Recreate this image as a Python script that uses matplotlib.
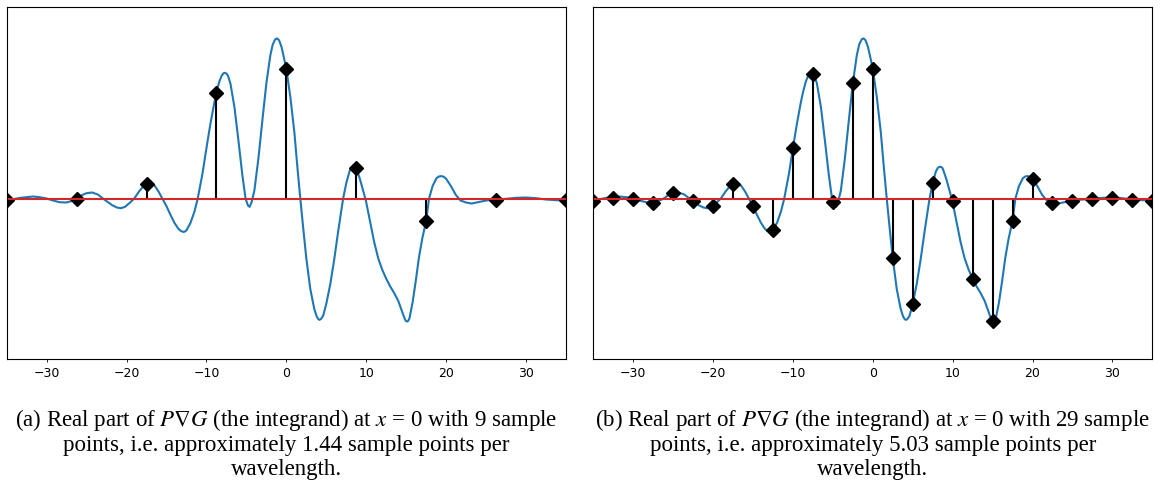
"""Real part of P grad G sampled at 9 and 29 points, drawn over the full curve."""

import matplotlib
matplotlib.use("Agg")
import matplotlib.pyplot as plt


curve_x = [-35.0, -34.2, -33.3, -32.5, -31.7, -30.9, -30.0, -29.2, -28.4, -27.6,
           -26.9, -26.25, -25.6, -25.0, -24.3, -23.6, -22.9, -22.5, -21.8, -21.2,
           -20.7, -20.2, -19.6, -19.0, -18.5, -18.0, -17.5, -17.0, -16.5, -16.0,
           -15.5, -15.0, -14.5, -14.0, -13.5, -13.2, -12.9, -12.7, -12.5, -12.0,
           -11.5, -11.1, -10.5, -10.0, -9.5, -9.0, -8.75, -8.4, -8.1, -7.85,
           -7.7, -7.5, -7.3, -7.0, -6.5, -6.0, -5.5, -5.1, -4.8, -4.6,
           -4.35, -4.0, -3.5, -3.0, -2.5, -2.0, -1.7, -1.4, -1.15, -0.9,
           -0.6, -0.3, 0.0, 0.5, 1.0, 1.4, 1.75, 2.1, 2.5, 3.0,
           3.5, 3.8, 4.0, 4.15, 4.35, 4.6, 5.0, 5.5, 6.0, 6.5,
           7.1, 7.5, 7.9, 8.15, 8.4, 8.6, 8.75, 9.2, 9.6, 9.95,
           10.5, 11.0, 11.5, 12.0, 12.5, 13.0, 13.5, 14.0, 14.5, 14.8,
           14.95, 15.1, 15.25, 15.4, 15.8, 16.2, 16.6, 17.0, 17.5, 17.85,
           18.3, 18.8, 19.1, 19.4, 19.7, 20.0, 20.6, 21.2, 21.8, 22.5,
           23.2, 24.0, 25.0, 26.25, 27.5, 28.7, 30.0, 31.2, 32.5, 33.8,
           35.0]
curve_y = [-0.05, -0.01, 0.03, 0.05, 0.07, 0.05, 0.01, -0.05, -0.10, -0.11,
           -0.07, 0.00, 0.11, 0.17, 0.19, 0.13, 0.00, -0.07, -0.19, -0.26,
           -0.28, -0.24, -0.12, 0.02, 0.20, 0.35, 0.45, 0.47, 0.40, 0.22,
           0.00, -0.22, -0.48, -0.72, -0.90, -0.96, -0.99, -0.98, -0.94, -0.72,
           -0.38, 0.00, 0.75, 1.52, 2.25, 2.90, 3.18, 3.50, 3.68, 3.76,
           3.77, 3.75, 3.68, 3.45, 2.75, 1.75, 0.70, 0.00, -0.20, -0.24,
           -0.10, 0.25, 1.20, 2.35, 3.46, 4.30, 4.62, 4.77, 4.80, 4.74,
           4.54, 4.22, 3.88, 3.05, 2.00, 0.90, 0.00, -0.85, -1.78, -2.70,
           -3.30, -3.52, -3.60, -3.62, -3.59, -3.50, -3.14, -2.55, -1.80, -0.95,
           0.00, 0.47, 0.82, 0.93, 0.96, 0.95, 0.91, 0.60, 0.25, -0.05,
           -0.70, -1.30, -1.78, -2.12, -2.39, -2.62, -2.82, -3.05, -3.38, -3.58,
           -3.65, -3.67, -3.65, -3.58, -3.10, -2.45, -1.75, -1.20, -0.65, 0.00,
           0.38, 0.62, 0.67, 0.68, 0.66, 0.60, 0.38, 0.12, -0.05, -0.11,
           -0.14, -0.10, -0.05, -0.02, 0.00, 0.03, 0.04, 0.02, -0.02, -0.04,
           -0.05]

# 9 sample points
samples_a_x = [-35.0, -26.25, -17.5, -8.75, 0.0, 8.75, 17.5, 26.25, 35.0]
samples_a_y = [-0.02, 0.0, 0.45, 3.18, 3.88, 0.91, -0.65, -0.02, -0.02]

# 29 sample points
samples_b_x = [-35.0, -32.5, -30.0, -27.5, -25.0, -22.5, -20.0, -17.5, -15.0, -12.5,
               -10.0, -7.5, -5.0, -2.5, 0.0, 2.5, 5.0, 7.5, 10.0, 12.5,
               15.0, 17.5, 20.0, 22.5, 25.0, 27.5, 30.0, 32.5, 35.0]
samples_b_y = [-0.05, 0.04, 0.0, -0.11, 0.17, -0.07, -0.20, 0.45, -0.22, -0.94,
               1.52, 3.74, -0.08, 3.46, 3.88, -1.78, -3.14, 0.47, -0.05, -2.39,
               -3.65, -0.65, 0.60, -0.11, -0.05, 0.0, 0.04, -0.04, -0.05]

xticks = [-30, -20, -10, 0, 10, 20, 30]

captions = [
    ["(a) Real part of $P\\nabla G$ (the integrand) at $x$ = 0 with 9 sample",
     "points, i.e. approximately 1.44 sample points per",
     "wavelength."],
    ["(b) Real part of $P\\nabla G$ (the integrand) at $x$ = 0 with 29 sample",
     "points, i.e. approximately 5.03 sample points per",
     "wavelength."],
]

plt.rcParams["mathtext.fontset"] = "stix"

fig = plt.figure(figsize=(11.62, 4.82), dpi=100)
ax_a = fig.add_axes([6.7 / 1162, 122.7 / 482, 559.3 / 1162, 352 / 482])
ax_b = fig.add_axes([593.3 / 1162, 122.7 / 482, 559.0 / 1162, 352 / 482])

for ax, sx, sy in [(ax_a, samples_a_x, samples_a_y), (ax_b, samples_b_x, samples_b_y)]:
    ax.plot(curve_x, curve_y, color="C0", lw=1.5)
    markers, stems, base = ax.stem(sx, sy, linefmt="k-", markerfmt="kD", basefmt="C3-")
    markers.set_markersize(7)
    stems.set_linewidth(1.5)
    base.set_linewidth(1.5)
    ax.set_xlim(-35, 35)
    ax.set_ylim(-4.80, 5.73)
    ax.set_yticks([])
    ax.set_xticks(xticks)
    ax.tick_params(axis="x", labelsize=9, length=2.5, width=0.6, pad=3)
    for sp in ax.spines.values():
        sp.set_linewidth(0.8)

centers = [286.4 / 1162, 872.8 / 1162]
line_y = [420, 446, 470]
for cx, lines in zip(centers, captions):
    for ly, txt in zip(line_y, lines):
        fig.text(cx, 1 - ly / 482, txt, ha="center", va="center",
                 family="Liberation Serif", fontsize=16.5)

fig.savefig("out.png", dpi=100)
